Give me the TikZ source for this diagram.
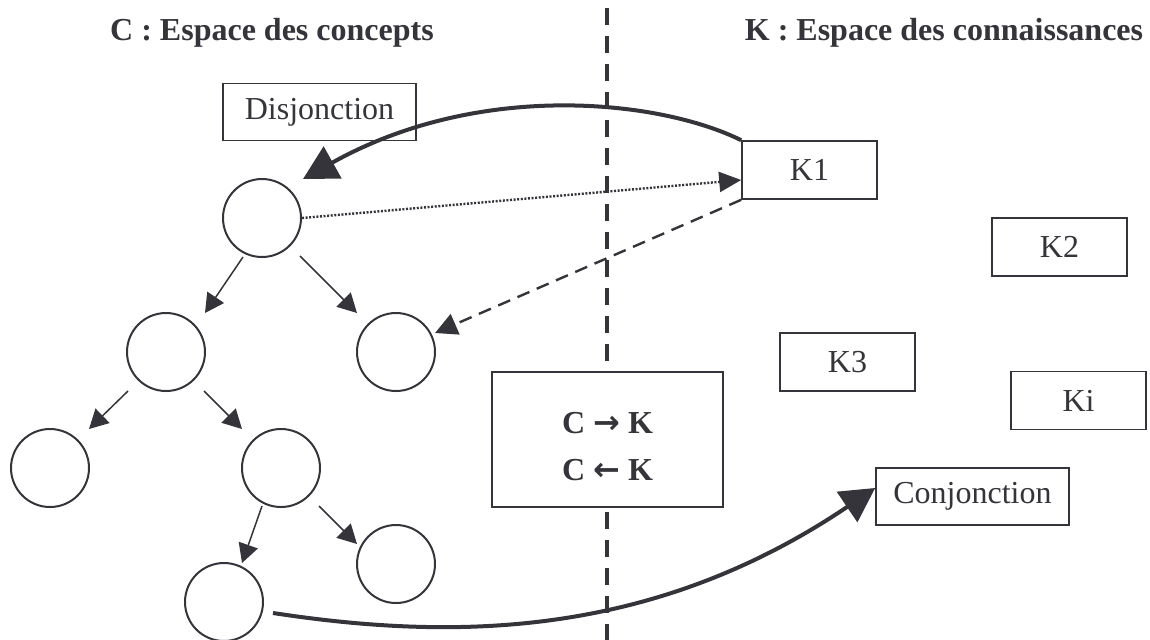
\documentclass[tikz,border=0pt]{standalone}
\usepackage{fontspec}
\setmainfont{Liberation Serif}
\newfontfamily\arrowfont{DejaVu Sans}
\usetikzlibrary{arrows.meta}
\definecolor{ink}{RGB}{52,52,58}
\begin{document}
\begin{tikzpicture}[x=0.5pt,y=-0.5pt,
  every node/.style={text=ink},
  kbox/.style={draw=ink,line width=0.8pt,fill=white,inner sep=0pt,minimum width=67.5pt,minimum height=29pt,font=\fontsize{16}{19}\selectfont},
  wbox/.style={kbox,minimum width=96.5pt,minimum height=28.5pt},
  concept/.style={circle,draw=ink,line width=1pt,inner sep=0pt,minimum size=39pt},
  title/.style={font=\fontsize{16}{19}\selectfont\bfseries,anchor=base,inner sep=0pt},
  tree/.style={draw=ink,line width=0.75pt,-{Triangle[length=9.5pt,width=10pt]}},
  bigcurve/.style={draw=ink,line width=2pt,-{Triangle[length=17pt,width=18pt]}},
  dotline/.style={draw=ink,line width=1.2pt,dash pattern=on 1pt off 0.8pt,-{Triangle[length=11pt,width=10pt]}},
  dashline/.style={draw=ink,line width=1.2pt,dash pattern=on 6.5pt off 4pt,-{Triangle[length=11pt,width=11pt]}},
  separator/.style={draw=ink,line width=1.8pt,dash pattern=on 8.5pt off 5.5pt}]
\useasboundingbox (0,0) rectangle (1150,639);

% separator
\coordinate (vt) at (607,8);
\coordinate (vb) at (607,645);
\path[separator] (vt) -- (vb);

% titles
\node[title] (tc) at (272,40) {C : Espace des concepts};
\node[title] (tk) at (944,40) {K : Espace des connaissances};

% boxes
\node[wbox] (disj) at (319.5,112) {Disjonction};
\node[kbox] (k1) at (809.5,170) {K1};
\node[kbox] (k2) at (1059.5,247) {K2};
\node[kbox] (k3) at (847.5,362) {K3};
\node[kbox] (ki) at (1078.5,400.5) {Ki};
\node[wbox] (conj) at (972.5,496.5) {Conjonction};
\node[draw=ink,line width=0.8pt,fill=white,inner sep=0pt,minimum width=115.5pt,minimum height=67.5pt] (ck) at (607.5,439.5) {};
\node[font=\fontsize{16}{23.5}\selectfont\bfseries,align=center,inner sep=0pt] (ckt) at (607.5,447) {C {\arrowfont→} K\\C {\arrowfont←} K};

% concept tree
\node[concept] (c0) at (262,218) {};
\node[concept] (c1) at (166,352) {};
\node[concept] (c2) at (396,352) {};
\node[concept] (c3) at (50,468) {};
\node[concept] (c4) at (281,468) {};
\node[concept] (c5) at (224,602) {};
\node[concept] (c6) at (396,564) {};

\path[tree] ([shift={(-19,39)}]c0.center) -- ([shift={(39,-39)}]c1.center);
\path[tree] ([shift={(38,38)}]c0.center) -- ([shift={(-39,-39)}]c2.center);
\path[tree] ([shift={(-38,39)}]c1.center) -- ([shift={(39,-39)}]c3.center);
\path[tree] ([shift={(38,39)}]c1.center) -- ([shift={(-39,-39)}]c4.center);
\path[tree] ([shift={(-19,38)}]c4.center) -- ([shift={(18,-39)}]c5.center);
\path[tree] ([shift={(38,38)}]c4.center) -- ([shift={(-39,-20)}]c6.center);

% C-K links
\path[dotline] (c0.east) -- ([shift={(0,10)}]k1.west);
\path[dashline] (k1.south west) -- ([shift={(39,-19)}]c2.center);
\path[bigcurve] (k1.north west) .. controls (660,100) and (480,80) .. ([shift={(41,-39)}]c0.center);
\path[bigcurve] ([shift={(49,11)}]c5.center) .. controls (450,640) and (650,640) .. (conj.175);
\end{tikzpicture}
\end{document}
